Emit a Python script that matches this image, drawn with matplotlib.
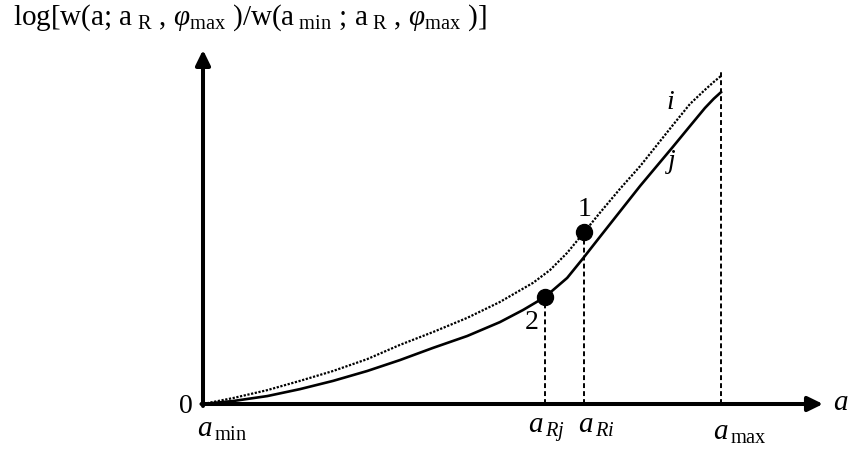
import numpy as np
import matplotlib
matplotlib.use("Agg")
import matplotlib.pyplot as plt

plt.rcParams['font.family'] = ['Liberation Serif', 'DejaVu Serif']
plt.rcParams['mathtext.fontset'] = 'custom'
plt.rcParams['mathtext.rm'] = 'Liberation Serif'
plt.rcParams['mathtext.it'] = 'Liberation Serif:italic'

# curva i (punteada): a normalizado entre a_min=0 y a_max=1
a_i = [0, .058, .124, .187, .251, .317, .380, .444, .510, .573, .637,
       .670, .703, .736, .766, .805, .844, .907, .940, .969, .986, 1.0]
w_i = [0, .018, .042, .070, .100, .136, .179, .218, .261, .309, .367,
       .406, .458, .521, .579, .652, .721, .845, .909, .952, .976, .994]

# curva j (continua)
a_j = [0, .058, .124, .187, .251, .317, .380, .444, .510, .573, .618, .660,
       .703, .734, .766, .844, .907, .940, .969, .986, 1.0]
w_j = [0, .009, .024, .045, .070, .100, .133, .170, .206, .248, .285, .324,
       .382, .442, .506, .661, .779, .842, .897, .925, .945]

# puntos 1 y 2
punto_a = [0.736, 0.660]
punto_w = [0.521, 0.324]
punto_etq = ['1', '2']

a_max_top = 1.012

fig = plt.figure(figsize=(8.52, 4.55), dpi=100)
ax = fig.add_axes([0, 0, 1, 1])
ax.set_xlim(-203 / 518, (852 - 203) / 518)
ax.set_ylim((404 - 455) / 330, 404 / 330)
ax.axis('off')

# ejes con flechas
flecha = dict(arrowstyle='-|>,head_length=0.45,head_width=0.22', lw=2.9,
              color='black', shrinkA=0, shrinkB=0, mutation_scale=20)
ax.annotate('', xy=(1.197, 0), xytext=(-0.003, 0), arrowprops=flecha)
ax.annotate('', xy=(0, 1.073), xytext=(0, -0.006), arrowprops=flecha)

# lineas verticales discontinuas
ax.plot([punto_a[1], punto_a[1]], [0, punto_w[1]], color='black', lw=1.4,
        ls=(0, (2.5, 1.6)))
ax.plot([punto_a[0], punto_a[0]], [0, punto_w[0]], color='black', lw=1.4,
        ls=(0, (2.5, 1.6)))
ax.plot([1.0, 1.0], [0, a_max_top], color='black', lw=1.4, ls=(0, (2.5, 1.6)))

# curvas
ax.plot(a_i, w_i, color='black', lw=1.6, ls=(0, (1, 0.7)))
ax.plot(a_j, w_j, color='black', lw=1.9)
ax.plot(punto_a, punto_w, 'o', color='black', markersize=11.5)

# etiquetas
ax.text(0.736, 0.588, punto_etq[0], fontsize=20, ha='center', va='center')
ax.text(0.635, 0.248, punto_etq[1], fontsize=20, ha='center', va='center')
ax.text(0.903, 0.915, 'i', fontsize=20, style='italic', ha='center', va='center')
ax.text(0.905, 0.736, 'j', fontsize=20, style='italic', ha='center', va='center')
ax.text(-0.034, -0.009, '0', fontsize=20, ha='center', va='center')
ax.text(1.23, 0.003, 'a', fontsize=21, style='italic', ha='center', va='center')

ax.text(-0.012, -0.100, r'$a_{\,\mathrm{min}}$', fontsize=21, va='baseline')
ax.text(0.627, -0.088, r'$a_{\,Rj}$', fontsize=21, va='baseline')
ax.text(0.724, -0.088, r'$a_{\,Ri}$', fontsize=21, va='baseline')
ax.text(0.985, -0.109, r'$a_{\,\mathrm{max}}$', fontsize=21, va='baseline')

titulo = (r'log[w(a; a$_{\mathrm{\ R}}$ , $\varphi_{\mathrm{max}}$ )/w(a$_{\mathrm{\ min}}$'
          r' ; a$_{\mathrm{\ R}}$ , $\varphi_{\mathrm{max}}$ )]')
fig.text(13 / 852, 1 - 25 / 455, titulo, fontsize=21, va='baseline', ha='left')

fig.savefig('out.png', dpi=100)
